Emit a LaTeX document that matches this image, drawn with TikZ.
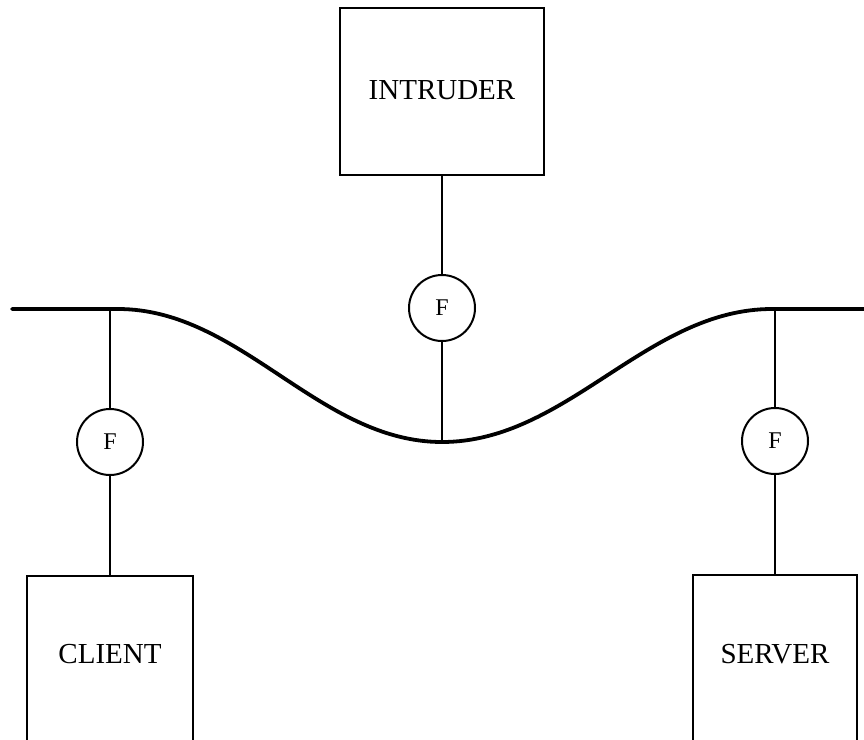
\documentclass[tikz,border=0pt]{standalone}
\usepackage{fontspec}
\setmainfont{Liberation Serif}
\begin{document}
\begin{tikzpicture}[x=1pt,y=-1pt,
  box/.style={draw,line width=2pt,rectangle,inner ysep=0pt,inner xsep=0pt,font=\fontsize{29}{34}\selectfont},
  filt/.style={draw,line width=2pt,circle,minimum size=66pt,inner sep=0pt,font=\fontsize{24}{28}\selectfont},
  conn/.style={line width=2pt},
  bus/.style={line width=3.8pt,line cap=round}]
\useasboundingbox (0,0) rectangle (864,739);
% boxes
\node[box,anchor=base,minimum width=204pt,text height=91pt,text depth=76pt] (intruder) at (442,99) {INTRUDER};
\node[box,anchor=base,minimum width=166pt,text height=87pt,text depth=95pt] (client) at (110,663) {CLIENT};
\node[box,anchor=base,minimum width=164pt,text height=88pt,text depth=95pt] (server) at (775,663) {SERVER};
% filters
\node[filt] (fi) at (442,308) {F};
\node[filt] (fc) at (110,442) {F};
\node[filt] (fs) at (775,441) {F};
% bus
\coordinate (busL) at (12,309);
\coordinate (bc) at (110,309);
\coordinate (bm) at (442,442);
\coordinate (bs) at (775,309);
\coordinate (busR) at (870,309);
\draw[bus] (busL) -- (118,309) .. controls (241,309) and (319,442) .. (bm)
  .. controls (567,442) and (647,309) .. (772,309) -- (busR);
% connectors
\draw[conn] (intruder) -- (fi);
\draw[conn] (fi) -- (bm);
\draw[conn] (bc) -- (fc);
\draw[conn] (fc) -- (client);
\draw[conn] (bs) -- (fs);
\draw[conn] (fs) -- (server);
\end{tikzpicture}
\end{document}
